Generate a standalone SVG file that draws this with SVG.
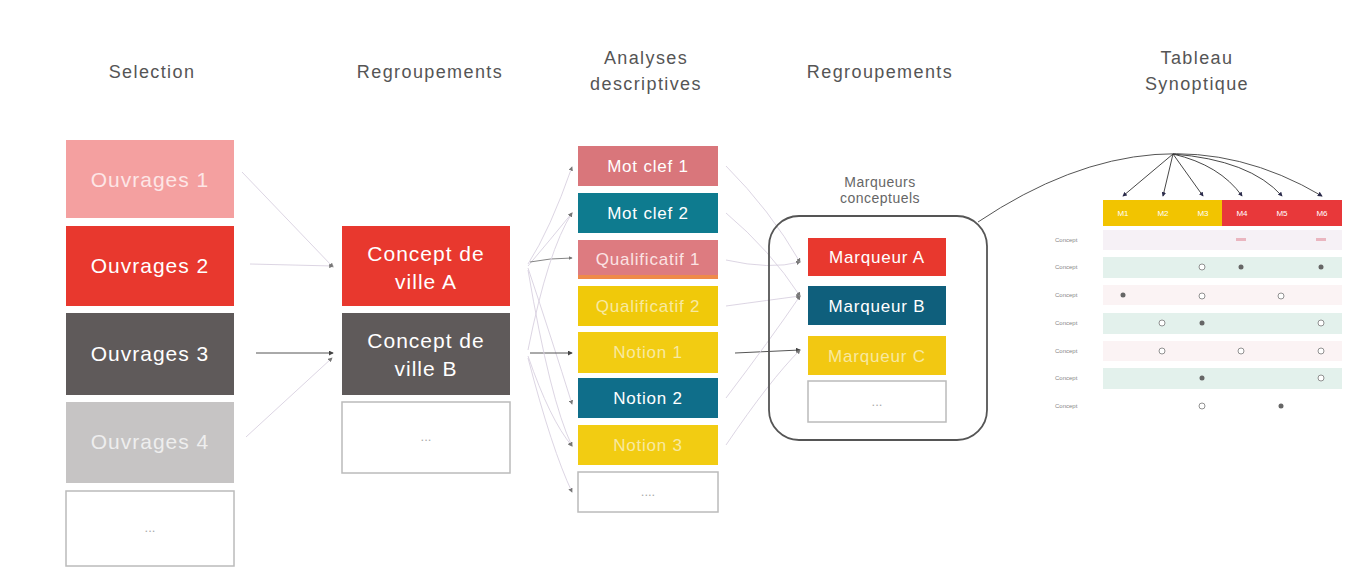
<svg xmlns="http://www.w3.org/2000/svg" width="1363" height="570" viewBox="0 0 1363 570">
<defs>
<marker id="ah" viewBox="0 0 6 6" refX="5" refY="3" markerWidth="5" markerHeight="5" orient="auto"><path d="M0,0 L6,3 L0,6 z" fill="#444"/></marker>
<marker id="ahf" viewBox="0 0 6 6" refX="5" refY="3" markerWidth="5" markerHeight="5" orient="auto"><path d="M0,0 L6,3 L0,6 z" fill="#777"/></marker>
<marker id="ahb" viewBox="0 0 6 6" refX="5" refY="3" markerWidth="5" markerHeight="5" orient="auto"><path d="M0,0 L6,3 L0,6 z" fill="#2a2a4a"/></marker>
</defs>
<style>
text{font-family:"Liberation Sans",Arial,sans-serif;}
.title{font-size:18px;letter-spacing:1.4px;fill:#555;text-anchor:middle;}
.sub{font-size:14px;letter-spacing:0.5px;fill:#666;text-anchor:middle;}
.big{font-size:21px;letter-spacing:1px;fill:#fff;text-anchor:middle;}
.mid{font-size:17px;letter-spacing:0.8px;fill:#fff;text-anchor:middle;}
.hd{font-size:8px;fill:#fff;text-anchor:middle;}
.rl{font-size:6px;fill:#888;}
.dots{font-size:13px;fill:#aaa;text-anchor:middle;}
.empty{fill:#fff;stroke:#bbb;stroke-width:1.5;}
.c{stroke:#666;stroke-width:0.8;fill:none;marker-end:url(#ahf);}
.cf{stroke:#d8d0e0;stroke-width:0.9;fill:none;marker-end:url(#ahf);}
.cd{stroke:#555;stroke-width:1;fill:none;marker-end:url(#ah);}
.fan{stroke:#333;stroke-width:0.9;fill:none;marker-end:url(#ahb);}
.mo{fill:#fff;stroke:#777;stroke-width:0.8;}
.mf{fill:#666;}
</style>
<rect width="1363" height="570" fill="#fff"/>

<g id="titles">
<text class="title" x="152" y="78">Selection</text>
<text class="title" x="430" y="78">Regroupements</text>
<text class="title" x="646" y="64">Analyses</text>
<text class="title" x="646" y="90">descriptives</text>
<text class="title" x="880" y="78">Regroupements</text>
<text class="title" x="1197" y="64">Tableau</text>
<text class="title" x="1197" y="90">Synoptique</text>
</g>

<g id="connectors">
<path class="cf" d="M242,172 L333,267"/>
<path class="cf" d="M250,264 L333,266"/>
<path class="cd" d="M256,353 L333,353"/>
<path class="cf" d="M246,437 L332,358"/>

<path class="cf" d="M528,264 Q550,230 572,167"/>
<path class="cf" d="M528,266 Q550,240 572,213"/>
<path class="c" d="M530,262 Q550,258 572,258"/>
<path class="cf" d="M528,268 Q552,340 572,404"/>
<path class="cf" d="M528,350 Q548,250 572,213"/>
<path class="cd" d="M530,353 L572,353"/>
<path class="cf" d="M528,356 Q550,420 572,446"/>
<path class="cf" d="M528,358 Q552,450 572,492"/>
<path class="cf" d="M528,270 Q550,400 572,446"/>

<path class="cf" d="M726,166 Q770,210 800,262"/>
<path class="cf" d="M726,213 Q770,250 800,296"/>
<path class="cf" d="M726,260 Q770,270 800,262"/>
<path class="cd" d="M735,353 L800,350"/>
<path class="cf" d="M726,398 Q770,340 800,296"/>
<path class="cf" d="M726,445 Q770,380 800,350"/>
<path class="cf" d="M726,306 Q770,300 800,296"/>

<path d="M978,222 Q1160,100 1322,196" stroke="#555" stroke-width="1" fill="none" marker-end="url(#ahb)"/>
<path class="fan" d="M1173,154 L1123,196"/>
<path class="fan" d="M1173,154 L1163,196"/>
<path class="fan" d="M1173,154 L1203,196"/>
<path class="fan" d="M1173,154 Q1220,165 1242,196"/>
<path class="fan" d="M1173,154 Q1250,160 1282,196"/>
</g>

<g id="ouvrages1"><rect x="66" y="140" width="168" height="78" fill="#f4a0a0"/><text class="big" x="150" y="187" style="fill:#fde6e6">Ouvrages 1</text></g>
<g id="ouvrages2"><rect x="66" y="226" width="168" height="80" fill="#e8382e"/><text class="big" x="150" y="273">Ouvrages 2</text></g>
<g id="ouvrages3"><rect x="66" y="313" width="168" height="82" fill="#5f5a5a"/><text class="big" x="150" y="361">Ouvrages 3</text></g>
<g id="ouvrages4"><rect x="66" y="402" width="168" height="81" fill="#c6c4c4"/><text class="big" x="150" y="449" style="fill:#eeeeee">Ouvrages 4</text></g>
<g id="sel-more"><rect class="empty" x="66" y="491" width="168" height="75"/><text class="dots" x="150" y="532">...</text></g>

<g id="conceptA"><rect x="342" y="226" width="168" height="80" fill="#e8382e"/><text class="big" x="426" y="261">Concept de</text><text class="big" x="426" y="289">ville A</text></g>
<g id="conceptB"><rect x="342" y="313" width="168" height="82" fill="#5f5a5a"/><text class="big" x="426" y="348">Concept de</text><text class="big" x="426" y="376">ville B</text></g>
<g id="reg-more"><rect class="empty" x="342" y="402" width="168" height="71"/><text class="dots" x="426" y="441">...</text></g>

<g id="motclef1"><rect x="578" y="146" width="140" height="40" fill="#d9767b"/><text class="mid" x="648" y="172">Mot clef 1</text></g>
<g id="motclef2"><rect x="578" y="193" width="140" height="40" fill="#0e7b8f"/><text class="mid" x="648" y="219">Mot clef 2</text></g>
<g id="qualif1"><rect x="578" y="240" width="140" height="39" fill="#dd7b80"/><rect x="578" y="275" width="140" height="4" fill="#ef8a4a"/><text class="mid" x="648" y="265" style="fill:#fbe3e3">Qualificatif 1</text></g>
<g id="qualif2"><rect x="578" y="286" width="140" height="40" fill="#f0c90a"/><text class="mid" x="648" y="312" style="fill:#f8e9a0">Qualificatif 2</text></g>
<g id="notion1"><rect x="578" y="332" width="140" height="41" fill="#f2cc12"/><text class="mid" x="648" y="358" style="fill:#f8e9a0">Notion 1</text></g>
<g id="notion2"><rect x="578" y="378" width="140" height="40" fill="#0f6e8a"/><text class="mid" x="648" y="404">Notion 2</text></g>
<g id="notion3"><rect x="578" y="425" width="140" height="40" fill="#f2cc12"/><text class="mid" x="648" y="451" style="fill:#f8e9a0">Notion 3</text></g>
<g id="ana-more"><rect class="empty" x="578" y="472" width="140" height="40"/><text class="dots" x="648" y="496">....</text></g>

<g id="marqueurs">
<text class="sub" x="880" y="187">Marqueurs</text>
<text class="sub" x="880" y="203">conceptuels</text>
<rect x="769" y="216" width="218" height="224" rx="30" fill="none" stroke="#555" stroke-width="1.8"/>
</g>
<g id="marqueurA"><rect x="808" y="238" width="138" height="38" fill="#e8382e"/><text class="mid" x="877" y="263">Marqueur A</text></g>
<g id="marqueurB"><rect x="808" y="286" width="138" height="39" fill="#0f5f7c"/><text class="mid" x="877" y="312">Marqueur B</text></g>
<g id="marqueurC"><rect x="808" y="336" width="138" height="39" fill="#f2c812"/><text class="mid" x="877" y="362" style="fill:#f8e9a0">Marqueur C</text></g>
<g id="mar-more"><rect class="empty" x="808" y="381" width="138" height="41"/><text class="dots" x="877" y="406">...</text></g>

<g id="tableau">
<rect x="1103" y="200" width="120" height="26" fill="#f2c400"/>
<rect x="1222" y="200" width="120" height="26" fill="#e8383a"/>
<text class="hd" x="1123" y="216">M1</text>
<text class="hd" x="1163" y="216">M2</text>
<text class="hd" x="1203" y="216">M3</text>
<text class="hd" x="1242" y="216">M4</text>
<text class="hd" x="1282" y="216">M5</text>
<text class="hd" x="1322" y="216">M6</text>
<rect x="1103" y="230" width="239" height="20" fill="#f6f1f6"/>
<rect x="1103" y="257" width="239" height="21" fill="#e3f1ec"/>
<rect x="1103" y="285" width="239" height="20" fill="#fbf3f4"/>
<rect x="1103" y="313" width="239" height="21" fill="#e3f1ec"/>
<rect x="1103" y="341" width="239" height="20" fill="#fbf3f4"/>
<rect x="1103" y="368" width="239" height="21" fill="#e3f1ec"/>
<text class="rl" x="1055" y="242">Concept</text>
<text class="rl" x="1055" y="269">Concept</text>
<text class="rl" x="1055" y="297">Concept</text>
<text class="rl" x="1055" y="325">Concept</text>
<text class="rl" x="1055" y="353">Concept</text>
<text class="rl" x="1055" y="380">Concept</text>
<text class="rl" x="1055" y="408">Concept</text>
<rect x="1236" y="238" width="10" height="3" fill="#eab6c0"/>
<rect x="1316" y="238" width="10" height="3" fill="#eab6c0"/>
<circle class="mo" cx="1202" cy="267" r="3"/>
<circle class="mf" cx="1241" cy="267" r="2.5"/>
<circle class="mf" cx="1321" cy="267" r="2.5"/>
<circle class="mf" cx="1123" cy="295" r="2.5"/>
<circle class="mo" cx="1202" cy="296" r="3"/>
<circle class="mo" cx="1281" cy="296" r="3"/>
<circle class="mo" cx="1162" cy="323" r="3"/>
<circle class="mf" cx="1202" cy="323" r="2.5"/>
<circle class="mo" cx="1321" cy="323" r="3"/>
<circle class="mo" cx="1162" cy="351" r="3"/>
<circle class="mo" cx="1241" cy="351" r="3"/>
<circle class="mo" cx="1321" cy="351" r="3"/>
<circle class="mf" cx="1202" cy="378" r="2.5"/>
<circle class="mo" cx="1321" cy="378" r="3"/>
<circle class="mo" cx="1202" cy="406" r="3"/>
<circle class="mf" cx="1281" cy="406" r="2.5"/>
</g>
</svg>
